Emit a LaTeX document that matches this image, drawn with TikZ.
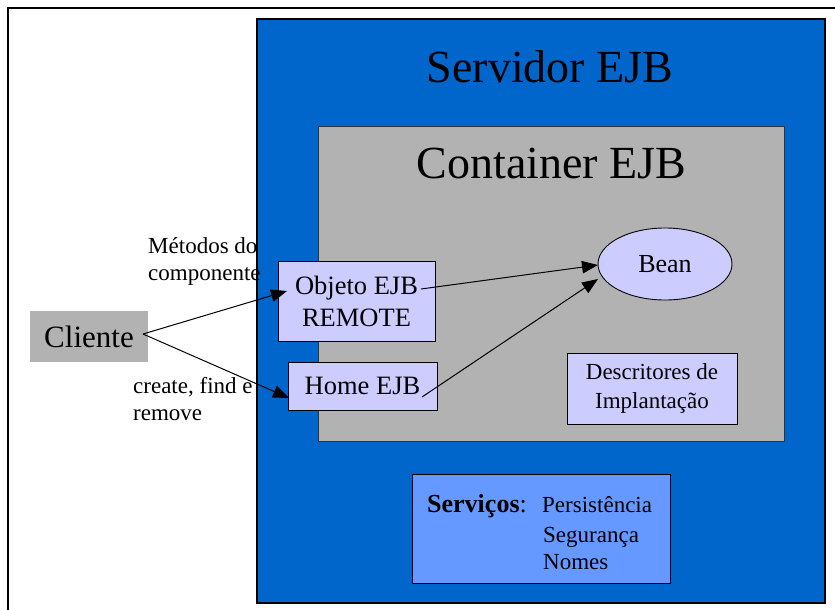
\documentclass[tikz,border=0pt]{standalone}
\usepackage{fontspec}
\setmainfont{Liberation Serif}
\usetikzlibrary{arrows.meta,shapes.geometric}
\definecolor{srvblue}{HTML}{0066CC}
\definecolor{contgray}{HTML}{B2B2B2}
\definecolor{lav}{HTML}{CCCCFF}
\definecolor{servblue}{HTML}{6699FF}
\newcommand{\fs}[2]{\fontsize{#1}{#2}\selectfont}
\tikzset{
  box/.style={draw=black, line width=0.9pt, fill=lav, inner sep=0pt, align=center},
  lbl/.style={anchor=base west, inner sep=0pt},
  conn/.style={line width=1pt, -{Triangle[length=16pt,width=12.5pt]}},
}
\begin{document}
\begin{tikzpicture}[x=1pt,y=-1pt]
\useasboundingbox (0,0) rectangle (835,610);
\clip (0,0) rectangle (835,610);
% outer frame
\draw[line width=1.6pt] (8,8) rectangle (850,625);
% server
\node[draw=black, line width=1.5pt, fill=srvblue, minimum width=568pt, minimum height=584pt, inner sep=0pt] (server) at (541,311) {};
\node[anchor=base, inner sep=0pt, font=\fs{46}{50}] (servtitle) at (550,82) {Servidor EJB};
% container
\node[draw=black!80, line width=0.8pt, fill=contgray, minimum width=466pt, minimum height=315pt, inner sep=0pt] (cont) at (551,283.5) {};
\node[anchor=base, inner sep=0pt, font=\fs{46}{50}] (conttitle) at (551.5,178) {Container EJB};
% labels
\node[lbl, font=\fs{23}{27}] (m1) at (148,253) {Métodos do};
\node[lbl, font=\fs{23}{27}] (m2) at (148,280) {componente};
\node[lbl, font=\fs{23}{27}] (c1) at (133,393) {create, find e};
\node[lbl, font=\fs{23}{27}] (c2) at (133,420) {remove};
% client
\node[fill=contgray, minimum width=118pt, minimum height=51pt, inner sep=0pt, font=\fs{31}{34}] (cliente) at (89,336.5) {Cliente};
% boxes
\node[box, minimum width=157pt, minimum height=80pt, font=\fs{26.5}{32}] (obj) at (356.5,301) {Objeto EJB\\REMOTE};
\node[box, minimum width=149pt, minimum height=48pt, font=\fs{26.5}{30}] (home) at (362.5,386) {Home EJB};
\node[box, ellipse, minimum width=134pt, minimum height=72pt, font=\fs{26}{30}] (bean) at (665,264) {Bean};
\node[box, minimum width=170pt, minimum height=71pt, font=\fs{23}{29}] (desc) at (652,388.5) {Descritores de\\Implantação};
\node[box, fill=servblue, minimum width=258pt, minimum height=109pt] (serv) at (541,528.5) {};
\node[lbl, font=\fs{26}{30}] (s0) at (427,512) {\textbf{Serviços}:};
\node[lbl, font=\fs{23}{28}] (s1) at (542,512) {Persistência};
\node[lbl, font=\fs{23}{28}] (s2) at (543,542) {Segurança};
\node[lbl, font=\fs{23}{28}] (s3) at (543,569) {Nomes};
% connector endpoints
\coordinate (cl) at (143,334);
\coordinate (objin) at (287,291);
\coordinate (homein) at (289,398);
\coordinate (objout) at (421,289);
\coordinate (homeout) at (422,397);
\coordinate (bean1) at (598,265);
\coordinate (bean2) at (598,279);
\draw[conn] (cl) -- (objin);
\draw[conn] (cl) -- (homein);
\draw[conn] (objout) -- (bean1);
\draw[conn] (homeout) -- (bean2);
\end{tikzpicture}
\end{document}
